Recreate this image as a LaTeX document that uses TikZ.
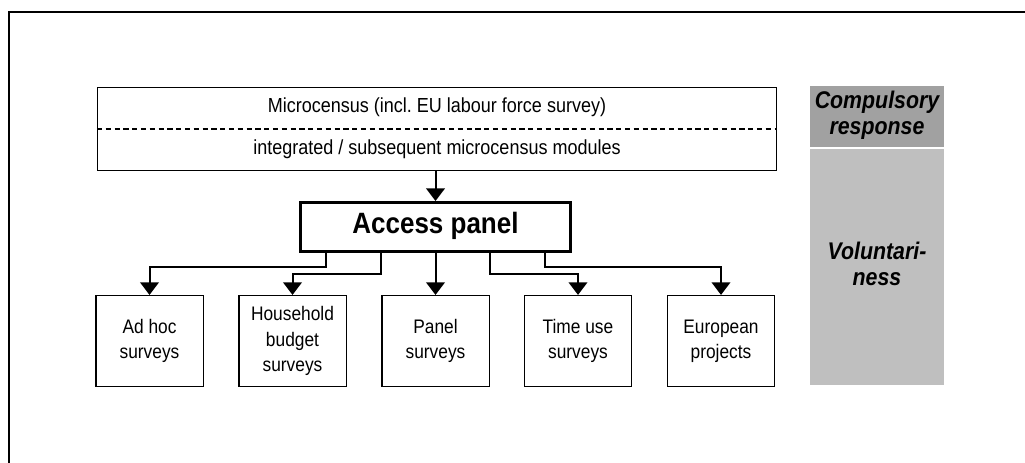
\documentclass[tikz,border=0pt]{standalone}
\usepackage{fontspec}
\usepackage{graphicx}
\setmainfont{Liberation Sans}
\usetikzlibrary{arrows.meta,calc}

% glyphs in this chart are set a little taller than wide
\newcommand\tallbox[1]{\scalebox{1}[1.13]{\begin{tabular}{@{}c@{}}#1\end{tabular}}}

\tikzset{
	survey/.style={draw, line width=1.1pt, minimum width=80.6pt, minimum height=68pt,
		inner sep=0pt, align=center, font=\fontsize{13}{16.6}\selectfont},
	link/.style={line width=1.5pt, -{Triangle[width=14pt,length=9.5pt]}},
	tag/.style={fill=#1, minimum width=100.5pt, inner sep=0pt, align=center,
		font=\bfseries\itshape\fontsize{16}{17.3}\selectfont},
}

\begin{document}
\begin{tikzpicture}[x=0.75pt, y=-0.75pt]
		\useasboundingbox (0,0) rectangle (1025,463);
		% open frame
		\draw[line width=2pt] (9,463) -- (9,12) -- (1025,12);

		% microcensus block with dashed split
		\node[draw, line width=1.1pt, minimum width=509pt, minimum height=62pt, inner sep=0pt] (mc) at (437,129) {};
		\draw[line width=1pt, dash pattern=on 4pt off 2.6pt] (mc.west) -- (mc.east);
		\node[font=\fontsize{13.5}{16}\selectfont] (mctop) at (437,108) {\tallbox{Microcensus (incl.\ EU labour force survey)}};
		\node[font=\fontsize{13.5}{16}\selectfont] (mcmod) at (437,150) {\tallbox{integrated / subsequent microcensus modules}};

		\node[draw, line width=2.25pt, minimum width=203pt, minimum height=36.75pt, inner sep=0pt,
			font=\bfseries\fontsize{19.5}{23}\selectfont] (ap) at (435.5,227) {\tallbox{Access panel}};
		\draw[link] (mc.south -| ap.north) -- (ap.north);

		% the five surveys
		\foreach \i/\x/\txt in {1/149.5/{Ad hoc\\surveys}, 2/292.5/{Household\\budget\\surveys},
			3/435.5/{Panel\\surveys}, 4/578/{Time use\\surveys}, 5/721/{European\\projects}}
		\node[survey] (s\i) at (\x,341) {\tallbox{\txt}};

		\foreach \i/\f/\d in {1/0.1/14, 2/0.3/21, 4/0.7/21, 5/0.9/14}
		\draw[link] ($(ap.south west)!\f!(ap.south east)$) -- ++(0,\d) -| (s\i.north);
		\draw[link] (ap.south) -- (s3.north);

		% response side bar
		\node[tag=black!37, minimum height=45.75pt] (comp) at (877,116.5) {\tallbox{Compulsory\\response}};
		\node[tag=black!25, minimum height=177pt] (vol) at (877,267) {\tallbox{Voluntari-\\ness}};

	\end{tikzpicture}
\end{document}
